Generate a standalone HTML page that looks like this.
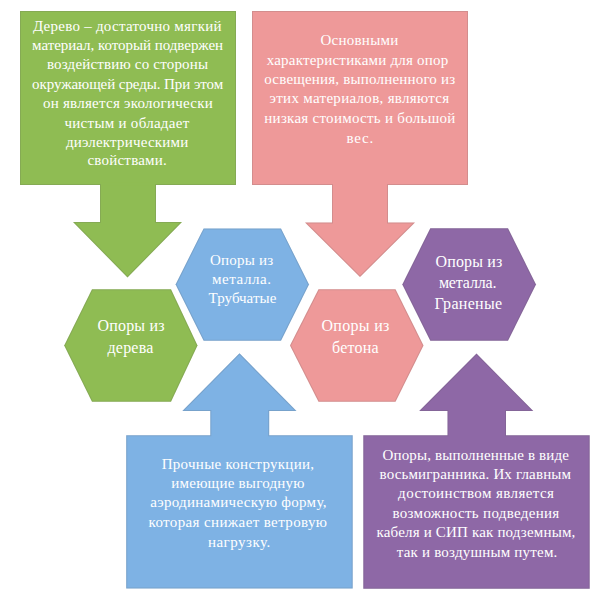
<!DOCTYPE html>
<html><head><meta charset="utf-8">
<style>
html,body{margin:0;padding:0;background:#fff;}
body{width:600px;height:600px;position:relative;overflow:hidden;font-family:"Liberation Serif",serif;}
svg{position:absolute;left:0;top:0;}
.t{position:absolute;color:#ffffff;line-height:1;white-space:nowrap;}
</style></head><body>
<svg width="600" height="600" viewBox="0 0 600 600"><defs>
<clipPath id="c0"><polygon points="20,11 236,11 236,185 20,185"/></clipPath>
<clipPath id="c1"><polygon points="252,11 468,11 468,185 252,185"/></clipPath>
<clipPath id="c2"><polygon points="100,184 156,184 156,222 182,222 127.5,277.5 73,222 100,222"/></clipPath>
<clipPath id="c3"><polygon points="332,184 388,184 388,222.5 415,222.5 360,277 305,222.5 332,222.5"/></clipPath>
<clipPath id="c4"><polygon points="175.6,284.5 203.6,228.4 281,228.4 309,284.5 281,340.7 203.6,340.7"/></clipPath>
<clipPath id="c5"><polygon points="402.3,284.5 430.3,228.3 508,228.3 536,284.5 508,340.7 430.3,340.7"/></clipPath>
<clipPath id="c6"><polygon points="64.2,345.5 92,289.2 171,289.2 197.5,345.5 171,401.7 92,401.7"/></clipPath>
<clipPath id="c7"><polygon points="290,345.5 318.5,289.3 395.5,289.3 423.5,345.5 395.5,401.7 318.5,401.7"/></clipPath>
<clipPath id="c8"><polygon points="210.3,436 269.2,436 269.2,411 296.5,411 239.5,353.3 182.3,411 210.3,411"/></clipPath>
<clipPath id="c9"><polygon points="447.5,436 506,436 506,411 533.3,411 476.5,353.5 419.2,411 447.5,411"/></clipPath>
<clipPath id="c10"><polygon points="126.2,435.2 352.7,435.2 352.7,588.5 126.2,588.5"/></clipPath>
<clipPath id="c11"><polygon points="363.3,435.2 589.7,435.2 589.7,588.7 363.3,588.7"/></clipPath>
</defs>
<polygon points="20,11 236,11 236,185 20,185" fill="#8FBC53"/><polygon points="20,11 236,11 236,185 20,185" fill="none" stroke="rgba(90,90,90,0.18)" stroke-width="2" clip-path="url(#c0)"/>
<polygon points="252,11 468,11 468,185 252,185" fill="#EE9999"/><polygon points="252,11 468,11 468,185 252,185" fill="none" stroke="rgba(90,90,90,0.18)" stroke-width="2" clip-path="url(#c1)"/>
<polygon points="126.2,435.2 352.7,435.2 352.7,588.5 126.2,588.5" fill="#7EB2E4"/><polygon points="126.2,435.2 352.7,435.2 352.7,588.5 126.2,588.5" fill="none" stroke="rgba(90,90,90,0.18)" stroke-width="2" clip-path="url(#c10)"/>
<polygon points="363.3,435.2 589.7,435.2 589.7,588.7 363.3,588.7" fill="#8E68A6"/><polygon points="363.3,435.2 589.7,435.2 589.7,588.7 363.3,588.7" fill="none" stroke="rgba(90,90,90,0.18)" stroke-width="2" clip-path="url(#c11)"/>
<polygon points="100,184 156,184 156,222 182,222 127.5,277.5 73,222 100,222" fill="#8FBC53"/><polygon points="100,184 156,184 156,222 182,222 127.5,277.5 73,222 100,222" fill="none" stroke="rgba(90,90,90,0.18)" stroke-width="2" clip-path="url(#c2)"/>
<polygon points="332,184 388,184 388,222.5 415,222.5 360,277 305,222.5 332,222.5" fill="#EE9999"/><polygon points="332,184 388,184 388,222.5 415,222.5 360,277 305,222.5 332,222.5" fill="none" stroke="rgba(90,90,90,0.18)" stroke-width="2" clip-path="url(#c3)"/>
<polygon points="210.3,436 269.2,436 269.2,411 296.5,411 239.5,353.3 182.3,411 210.3,411" fill="#7EB2E4"/><polygon points="210.3,436 269.2,436 269.2,411 296.5,411 239.5,353.3 182.3,411 210.3,411" fill="none" stroke="rgba(90,90,90,0.18)" stroke-width="2" clip-path="url(#c8)"/>
<polygon points="447.5,436 506,436 506,411 533.3,411 476.5,353.5 419.2,411 447.5,411" fill="#8E68A6"/><polygon points="447.5,436 506,436 506,411 533.3,411 476.5,353.5 419.2,411 447.5,411" fill="none" stroke="rgba(90,90,90,0.18)" stroke-width="2" clip-path="url(#c9)"/>
<polygon points="175.6,284.5 203.6,228.4 281,228.4 309,284.5 281,340.7 203.6,340.7" fill="#7EB2E4"/><polygon points="175.6,284.5 203.6,228.4 281,228.4 309,284.5 281,340.7 203.6,340.7" fill="none" stroke="rgba(90,90,90,0.18)" stroke-width="2" clip-path="url(#c4)"/>
<polygon points="402.3,284.5 430.3,228.3 508,228.3 536,284.5 508,340.7 430.3,340.7" fill="#8E68A6"/><polygon points="402.3,284.5 430.3,228.3 508,228.3 536,284.5 508,340.7 430.3,340.7" fill="none" stroke="rgba(90,90,90,0.18)" stroke-width="2" clip-path="url(#c5)"/>
<polygon points="64.2,345.5 92,289.2 171,289.2 197.5,345.5 171,401.7 92,401.7" fill="#8FBC53"/><polygon points="64.2,345.5 92,289.2 171,289.2 197.5,345.5 171,401.7 92,401.7" fill="none" stroke="rgba(90,90,90,0.18)" stroke-width="2" clip-path="url(#c6)"/>
<polygon points="290,345.5 318.5,289.3 395.5,289.3 423.5,345.5 395.5,401.7 318.5,401.7" fill="#EE9999"/><polygon points="290,345.5 318.5,289.3 395.5,289.3 423.5,345.5 395.5,401.7 318.5,401.7" fill="none" stroke="rgba(90,90,90,0.18)" stroke-width="2" clip-path="url(#c7)"/>
<rect x="101" y="182.5" width="54" height="3" fill="#8FBC53"/>
<rect x="333" y="182.5" width="54" height="3" fill="#EE9999"/>
<rect x="211.3" y="434.5" width="56.9" height="3" fill="#7EB2E4"/>
<rect x="448.5" y="434.5" width="56.5" height="3" fill="#8E68A6"/>
</svg>
<div class="t" id="G1" style="left:32.90px;top:19.04px;font-size:15px;letter-spacing:0.264px">Дерево – достаточно мягкий</div>
<div class="t" id="G2" style="left:32.10px;top:38.34px;font-size:15px;letter-spacing:-0.035px">материал, который подвержен</div>
<div class="t" id="G3" style="left:46.90px;top:57.44px;font-size:15px;letter-spacing:0.186px">воздействию со стороны</div>
<div class="t" id="G4" style="left:32.10px;top:76.74px;font-size:15px;letter-spacing:-0.080px">окружающей среды. При этом</div>
<div class="t" id="G5" style="left:42.90px;top:95.94px;font-size:15px;letter-spacing:0.252px">он является экологически</div>
<div class="t" id="G6" style="left:64.50px;top:115.94px;font-size:15px;letter-spacing:0.275px">чистым и обладает</div>
<div class="t" id="G7" style="left:65.90px;top:135.14px;font-size:15px;letter-spacing:0.193px">диэлектрическими</div>
<div class="t" id="G8" style="left:87.50px;top:153.44px;font-size:15px;letter-spacing:0.210px">свойствами.</div>
<div class="t" id="P1" style="left:320.50px;top:33.44px;font-size:15px;letter-spacing:0.250px">Основными</div>
<div class="t" id="P2" style="left:266.70px;top:53.04px;font-size:15px;letter-spacing:0.208px">характеристиками для опор</div>
<div class="t" id="P3" style="left:264.30px;top:72.44px;font-size:15px;letter-spacing:0.192px">освещения, выполненного из</div>
<div class="t" id="P4" style="left:269.50px;top:91.44px;font-size:15px;letter-spacing:0.300px">этих материалов, являются</div>
<div class="t" id="P5" style="left:264.30px;top:111.44px;font-size:15px;letter-spacing:0.272px">низкая стоимость и большой</div>
<div class="t" id="P6" style="left:346.50px;top:131.44px;font-size:15px;letter-spacing:0.733px">вес.</div>
<div class="t" id="B1" style="left:161.70px;top:457.34px;font-size:15px;letter-spacing:0.289px">Прочные конструкции,</div>
<div class="t" id="B2" style="left:171.30px;top:476.04px;font-size:15px;letter-spacing:0.233px">имеющие выгодную</div>
<div class="t" id="B3" style="left:150.30px;top:495.34px;font-size:15px;letter-spacing:0.277px">аэродинамическую форму,</div>
<div class="t" id="B4" style="left:148.50px;top:514.54px;font-size:15px;letter-spacing:0.378px">которая снижает ветровую</div>
<div class="t" id="B5" style="left:207.90px;top:534.74px;font-size:15px;letter-spacing:0.487px">нагрузку.</div>
<div class="t" id="U1" style="left:382.50px;top:447.94px;font-size:15px;letter-spacing:0.150px">Опоры, выполненные в виде</div>
<div class="t" id="U2" style="left:379.50px;top:467.04px;font-size:15px;letter-spacing:0.150px">восьмигранника. Их главным</div>
<div class="t" id="U3" style="left:398.10px;top:486.44px;font-size:15px;letter-spacing:0.400px">достоинством является</div>
<div class="t" id="U4" style="left:392.50px;top:505.84px;font-size:15px;letter-spacing:0.307px">возможность подведения</div>
<div class="t" id="U5" style="left:376.50px;top:525.34px;font-size:15px;letter-spacing:0.177px">кабеля и СИП как подземным,</div>
<div class="t" id="U6" style="left:396.70px;top:544.84px;font-size:15px;letter-spacing:0.205px">так и воздушным путем.</div>
<div class="t" id="H1" style="left:97.50px;top:318.30px;font-size:16px;letter-spacing:0.179px">Опоры из</div>
<div class="t" id="H2" style="left:107.50px;top:340.35px;font-size:16px;letter-spacing:0.200px">дерева</div>
<div class="t" id="K1" style="left:321.50px;top:318.30px;font-size:16px;letter-spacing:0.300px">Опоры из</div>
<div class="t" id="K2" style="left:332.10px;top:340.30px;font-size:16px;letter-spacing:0.200px">бетона</div>
<div class="t" id="L1" style="left:209.90px;top:252.94px;font-size:15px;letter-spacing:0.236px">Опоры из</div>
<div class="t" id="L2" style="left:211.90px;top:272.14px;font-size:15px;letter-spacing:0.593px">металла.</div>
<div class="t" id="L3" style="left:208.50px;top:291.19px;font-size:15px;letter-spacing:0.062px">Трубчатые</div>
<div class="t" id="M1" style="left:435.50px;top:253.60px;font-size:16px;letter-spacing:0.157px">Опоры из</div>
<div class="t" id="M2" style="left:438.90px;top:275.10px;font-size:16px;letter-spacing:-0.157px">металла.</div>
<div class="t" id="M3" style="left:434.50px;top:296.40px;font-size:16px;letter-spacing:0.321px">Граненые</div>
</body></html>
